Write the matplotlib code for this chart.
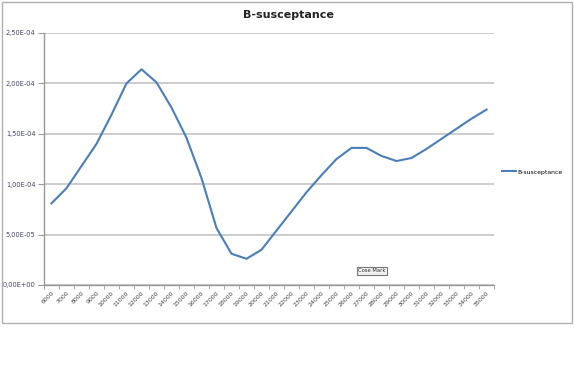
import matplotlib.pyplot as plt
from matplotlib.patches import Rectangle
from matplotlib.ticker import FuncFormatter, MultipleLocator

W, H = 574, 376

freqs = [str(f) for f in range(6000, 36000, 1000)]
b_susceptance = [
    8.1e-5, 9.6e-5, 1.18e-4, 1.40e-4, 1.69e-4, 2.00e-4, 2.14e-4, 2.01e-4,
    1.76e-4, 1.46e-4, 1.06e-4, 5.65e-5, 3.1e-5, 2.6e-5, 3.5e-5, 5.4e-5,
    7.3e-5, 9.2e-5, 1.09e-4, 1.25e-4, 1.36e-4, 1.36e-4, 1.28e-4, 1.23e-4,
    1.26e-4, 1.35e-4, 1.45e-4, 1.55e-4, 1.65e-4, 1.74e-4,
]


def sci_comma(v, _pos):
    return f"{v:.2E}".replace(".", ",")


def main() -> None:
    fig = plt.figure(figsize=(W / 100, H / 100), dpi=100)
    ax = fig.add_axes([44 / W, (H - 285) / H, 450 / W, 252 / H])

    x = list(range(len(freqs)))
    ax.plot(x, b_susceptance, color="#4a7ebb", lw=1.5, label="B-susceptance")

    ax.set_xlim(-0.5, len(freqs) - 0.5)
    ax.set_ylim(0, 2.5e-4)
    ax.yaxis.set_major_locator(MultipleLocator(5e-5))
    ax.yaxis.set_major_formatter(FuncFormatter(sci_comma))
    ax.grid(axis="y", color="#cccccc", lw=1.4)
    ax.set_axisbelow(True)

    ax.set_xticks(x)
    ax.set_xticklabels(freqs, rotation=45, ha="right", va="top",
                       rotation_mode="anchor", fontsize=4.5, color="#444444")
    ax.set_xticks([i - 0.5 for i in range(len(freqs) + 1)], minor=True)
    ax.tick_params(axis="x", which="major", length=0, pad=4)
    ax.tick_params(axis="x", which="minor", length=3, color="#999999")
    ax.tick_params(axis="y", length=4, color="#999999", labelsize=4.8,
                   labelcolor="#444466", pad=2)

    for side in ("top", "right"):
        ax.spines[side].set_visible(False)
    for side in ("left", "bottom"):
        ax.spines[side].set_color("#999999")
        ax.spines[side].set_linewidth(1.0)

    fig.text(288 / W, 1 - 15 / H, "B-susceptance", ha="center", va="center",
             fontsize=8, fontweight="bold", color="#222222")

    fig.legend(loc="center left", bbox_to_anchor=(500 / W, 1 - 172 / H),
               frameon=False, fontsize=4.4, handlelength=2.2,
               handletextpad=0.2, borderaxespad=0)

    fig.text(372 / W, 1 - 271 / H, "Cose Mark", ha="center", va="center",
             fontsize=3.8, color="#333333",
             bbox=dict(boxstyle="square,pad=0.3", fc="#f2f2f2", ec="#777777", lw=0.8))

    fig.patches.append(Rectangle((2 / W, (H - 323) / H), 570 / W, 321 / H,
                                 transform=fig.transFigure, fill=False,
                                 ec="#b0b0b0", lw=1.0))

    fig.savefig("out.png", dpi=100)
    plt.close(fig)


if __name__ == "__main__":
    main()
